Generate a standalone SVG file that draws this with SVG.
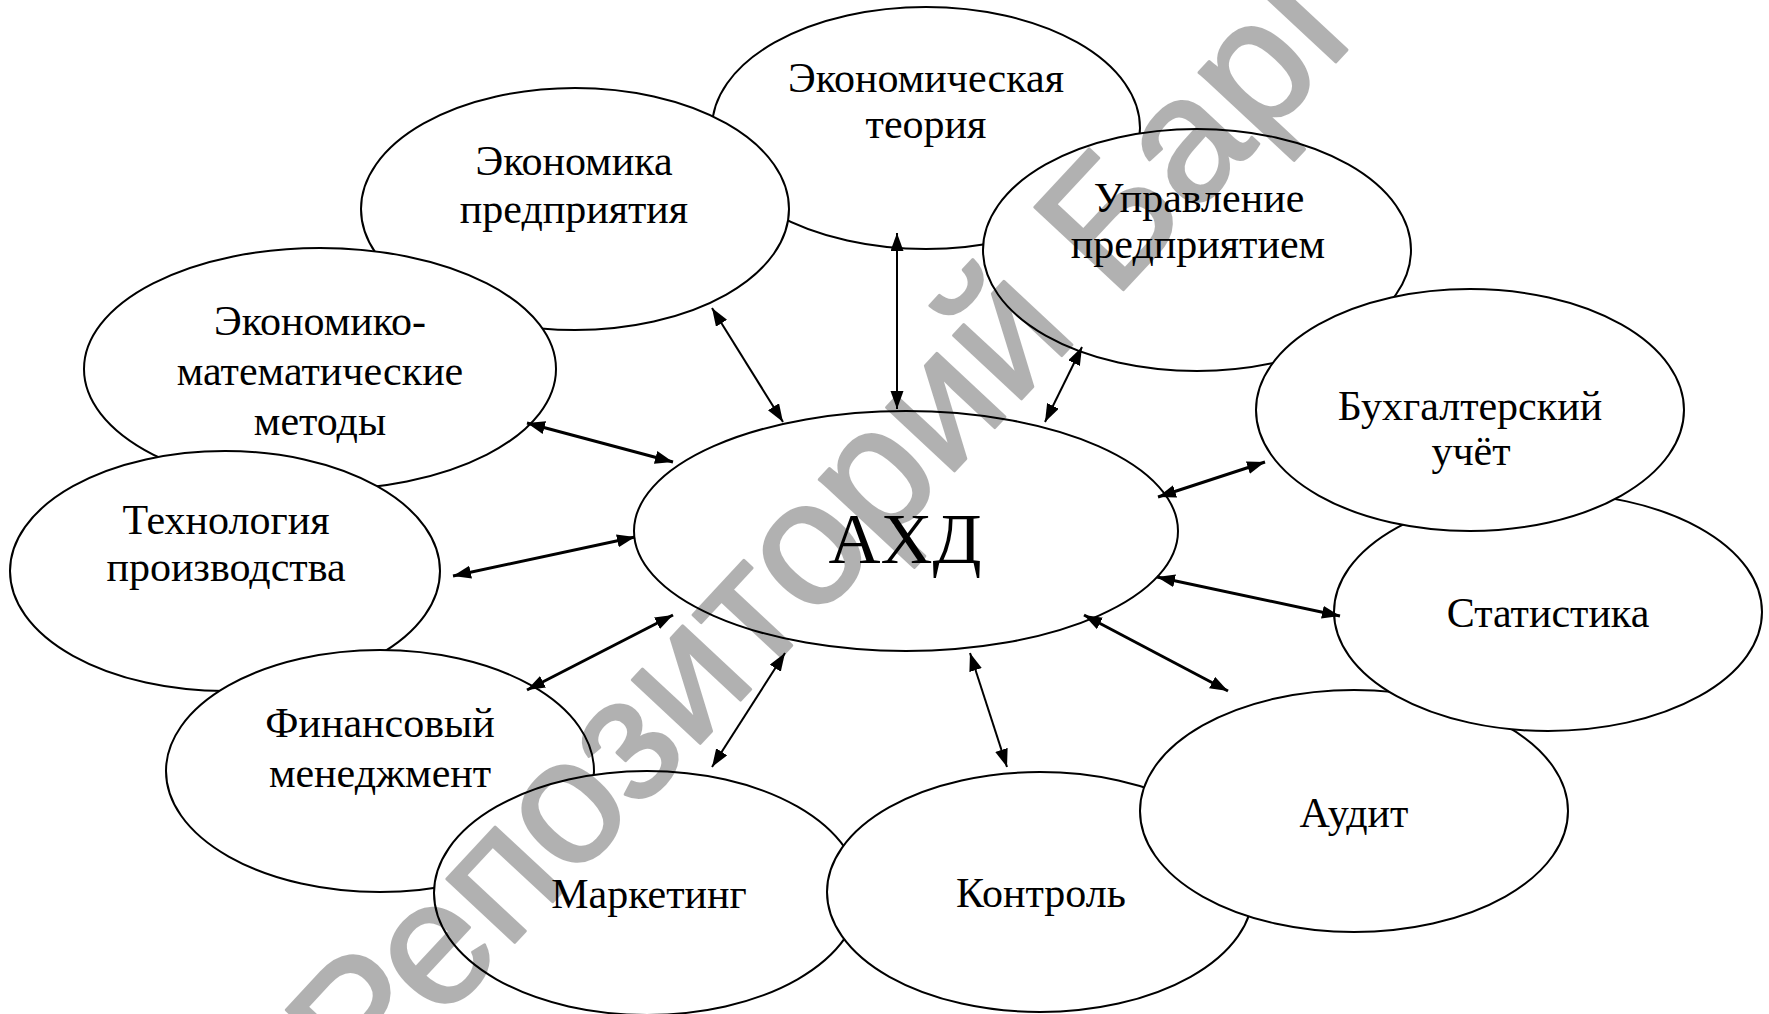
<svg xmlns="http://www.w3.org/2000/svg" width="1769" height="1014" viewBox="0 0 1769 1014">
<style>
.n ellipse{fill:#fff;stroke:#000;stroke-width:2}
.n text{font-family:"Liberation Serif","Times New Roman",serif;font-size:42px;text-anchor:middle;fill:#000}
.c line{stroke:#000;marker-start:url(#ah);marker-end:url(#ah)}
.t{stroke-width:2}
.k{stroke-width:3}
</style>
<defs>
<marker id="ah" markerUnits="userSpaceOnUse" markerWidth="20" markerHeight="14" refX="18" refY="6.5" orient="auto-start-reverse">
<path d="M0,0 L18,6.5 L0,13 z" fill="#000"/>
</marker>
</defs>
<rect width="1769" height="1014" fill="#fff"/>
<g class="n" id="n-et"><ellipse cx="926" cy="128" rx="214" ry="121"/><text x="926" y="92">Экономическая</text><text x="926" y="138">теория</text></g>
<g class="n" id="n-ep"><ellipse cx="575" cy="209" rx="214" ry="121"/><text x="574" y="175">Экономика</text><text x="574" y="223">предприятия</text></g>
<g class="n" id="n-em"><ellipse cx="320" cy="369" rx="236" ry="121"/><text x="320" y="335">Экономико-</text><text x="320" y="385">математические</text><text x="320" y="435">методы</text></g>
<g class="n" id="n-tp"><ellipse cx="225" cy="571" rx="215" ry="120"/><text x="226" y="534">Технология</text><text x="226" y="581">производства</text></g>
<g class="n" id="n-fm"><ellipse cx="380" cy="771" rx="214" ry="121"/><text x="380" y="737">Финансовый</text><text x="380" y="787">менеджмент</text></g>
<g class="n" id="n-mk"><ellipse cx="647" cy="893" rx="213" ry="122"/><text x="649" y="908">Маркетинг</text></g>
<g class="n" id="n-kn"><ellipse cx="1040" cy="892" rx="213" ry="120"/><text x="1041" y="907">Контроль</text></g>
<g class="n" id="n-au"><ellipse cx="1354" cy="811" rx="214" ry="121"/><text x="1354" y="827">Аудит</text></g>
<g class="n" id="n-st"><ellipse cx="1548" cy="612" rx="214" ry="119"/><text x="1548" y="627">Статистика</text></g>
<g class="n" id="n-up"><ellipse cx="1197" cy="250" rx="214" ry="121"/><text x="1199" y="212">Управление</text><text x="1198" y="258">предприятием</text></g>
<g class="n" id="n-bu"><ellipse cx="1470" cy="410" rx="214" ry="121"/><text x="1470" y="420">Бухгалтерский</text><text x="1471" y="465">учёт</text></g>
<g class="n" id="n-axd"><ellipse cx="906" cy="531" rx="272" ry="120"/><text x="905" y="563" style="font-size:72px">АХД</text></g>
<g class="c" id="connectors">
<line class="t" x1="897" y1="233" x2="897" y2="409"/>
<line class="t" x1="712" y1="308" x2="783" y2="422"/>
<line class="t" x1="1082" y1="347" x2="1045" y2="422"/>
<line class="k" x1="527" y1="423" x2="673" y2="462"/>
<line class="k" x1="453" y1="576" x2="635" y2="537"/>
<line class="k" x1="527" y1="690" x2="673" y2="615"/>
<line class="t" x1="712" y1="767" x2="785" y2="653"/>
<line class="t" x1="970" y1="653" x2="1007" y2="767"/>
<line class="k" x1="1084" y1="615" x2="1228" y2="691"/>
<line class="k" x1="1157" y1="577" x2="1340" y2="616"/>
<line class="k" x1="1265" y1="462" x2="1158" y2="497"/>
</g>
<g opacity="0.3"><text transform="translate(365,1103) rotate(-47)" font-family="Liberation Sans, Arial, sans-serif" font-size="176" fill="#000" stroke="#000" stroke-width="3" stroke-linejoin="round">Репозиторий БарГУ</text></g>
</svg>
